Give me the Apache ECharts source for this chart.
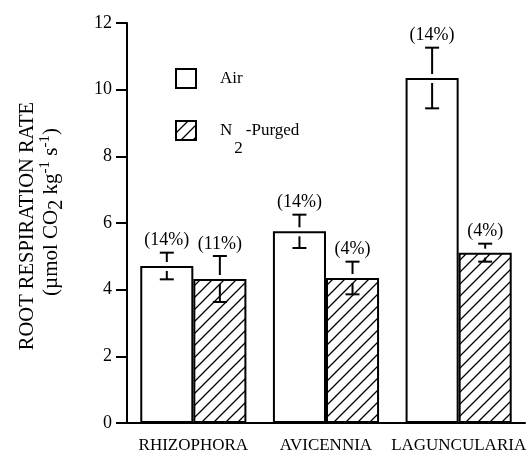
<!DOCTYPE html>
<html>
<head>
<meta charset="utf-8">
<script src="https://cdn.jsdelivr.net/npm/echarts@6/dist/echarts.min.js"></script>
<style>
html,body{margin:0;padding:0;background:#fff;}
#c{width:529px;height:455px;}
</style>
</head>
<body>
<div id="c"></div>
<script>
const categories = ['RHIZOPHORA', 'AVICENNIA', 'LAGUNCULARIA'];
const airValues = [4.71, 5.75, 10.35];
const airErrors = [0.40, 0.50, 0.91];
const airLabels = ['(14%)', '(14%)', '(14%)'];
const n2Values = [4.32, 4.35, 5.11];
const n2Errors = [0.69, 0.49, 0.27];
const n2Labels = ['(11%)', '(4%)', '(4%)'];
const yTicks = [0, 2, 4, 6, 8, 10, 12];

const SERIF = '"Liberation Serif","Times New Roman",serif';

function hatch() {
  const s = 12;
  const c = document.createElement('canvas');
  c.width = s; c.height = s;
  const g = c.getContext('2d');
  g.fillStyle = '#fff';
  g.fillRect(0, 0, s, s);
  g.strokeStyle = '#000';
  g.lineWidth = 1.3;
  g.beginPath();
  g.moveTo(-1, s + 1); g.lineTo(s + 1, -1);
  g.moveTo(-1, 1); g.lineTo(1, -1);
  g.moveTo(s - 1, s + 1); g.lineTo(s + 1, s - 1);
  g.stroke();
  return c;
}
const hatchFill = { image: hatch(), repeat: 'repeat' };

function errData(vals, errs) {
  return vals.map((v, i) => [i, v, errs[i]]);
}

function makeErr(offsetFrac, labels) {
  return function (params, api) {
    const i = api.value(0), v = api.value(1), e = api.value(2);
    const band = api.size([1, 0])[0];
    const x = api.coord([i, 0])[0] + offsetFrac * band;
    const yT = api.coord([i, v + e])[1];
    const yB = api.coord([i, v])[1];
    const yL = api.coord([i, v - e])[1];
    const cw = 7;
    const st = { stroke: '#000', lineWidth: 2 };
    const kids = [
      { type: 'line', shape: { x1: x, y1: yT, x2: x, y2: yB - 4 }, style: st },
      { type: 'line', shape: { x1: x, y1: yB + 5, x2: x, y2: yL }, style: st },
      { type: 'line', shape: { x1: x - cw, y1: yT, x2: x + cw, y2: yT }, style: st },
      { type: 'line', shape: { x1: x - cw, y1: yL, x2: x + cw, y2: yL }, style: st },
      { type: 'text', style: { x: x, y: yT - 3, text: labels[params.dataIndex], textAlign: 'center', textVerticalAlign: 'bottom', fill: '#000', font: '18px ' + SERIF } }
    ];
    return { type: 'group', children: kids };
  };
}

const chart = echarts.init(document.getElementById('c'), null, { renderer: 'canvas' });
chart.setOption({
  animation: false,
  backgroundColor: '#fff',
  grid: { left: 127, right: 3, top: 23, bottom: 32, containLabel: false },
  legend: {
    orient: 'vertical',
    left: 175, top: 68, padding: 0,
    itemWidth: 20, itemHeight: 19, itemGap: 31,
    icon: 'rect',
    data: ['Air', 'N2-Purged'],
    itemStyle: { borderColor: '#000', borderWidth: 2 },
    formatter: function (n) { return n === 'Air' ? '{a|Air}' : '{a|N}{s|2}{g|-Purged}'; },
    textStyle: {
      color: '#000', fontFamily: SERIF, fontSize: 17, padding: [0, 0, 0, 19],
      rich: {
        a: { fontFamily: SERIF, fontSize: 17, color: '#000', lineHeight: 22, verticalAlign: 'middle' },
        g: { fontFamily: SERIF, fontSize: 17, color: '#000', lineHeight: 22, verticalAlign: 'middle', padding: [0, 0, 0, 3] },
        s: { fontFamily: SERIF, fontSize: 17, color: '#000', lineHeight: 22, verticalAlign: 'bottom', padding: [0, 0, -16, 2] }
      }
    }
  },
  xAxis: {
    type: 'category',
    data: categories,
    axisLine: { lineStyle: { color: '#000', width: 2 } },
    axisTick: { alignWithLabel: true, length: 9, lineStyle: { color: '#000', width: 1.5 } },
    axisLabel: { color: '#000', fontFamily: SERIF, fontSize: 17, margin: 14, interval: 0 }
  },
  yAxis: {
    type: 'value',
    min: yTicks[0], max: yTicks[yTicks.length - 1], interval: 2,
    splitLine: { show: false },
    axisLine: { show: true, lineStyle: { color: '#000', width: 2 } },
    axisTick: { show: true, length: 11, lineStyle: { color: '#000', width: 2 } },
    axisLabel: { color: '#000', fontFamily: SERIF, fontSize: 18, margin: 15 }
  },
  graphic: [
    {
      type: 'text', x: 28, y: 226, rotation: Math.PI / 2,
      style: { text: 'ROOT RESPIRATION RATE', font: '20.5px ' + SERIF, fill: '#000', textAlign: 'center', textVerticalAlign: 'middle' }
    },
    {
      type: 'text', x: 51, y: 212, rotation: Math.PI / 2,
      style: {
        text: '{a|(µmol CO}{s|2}{a| kg}{p|-1}{a| s}{p|-1}{a|)}',
        textAlign: 'center', textVerticalAlign: 'middle',
        rich: {
          a: { fontFamily: SERIF, fontSize: 21, color: '#000', lineHeight: 26, verticalAlign: 'middle' },
          s: { fontFamily: SERIF, fontSize: 20, color: '#000', lineHeight: 26, padding: [12, 0, 0, 0] },
          p: { fontFamily: SERIF, fontSize: 15, color: '#000', lineHeight: 26, padding: [0, 0, 12, 0] }
        }
      }
    }
  ],
  series: [
    {
      name: 'Air', type: 'bar', data: airValues, barWidth: '40%', barGap: '0%',
      itemStyle: { color: '#fff', borderColor: '#000', borderWidth: 2 }, z: 2
    },
    {
      name: 'N2-Purged', type: 'bar', data: n2Values, barWidth: '40%', barGap: '0%',
      itemStyle: { color: hatchFill, borderColor: '#000', borderWidth: 2 }, z: 2
    },
    {
      type: 'custom', data: errData(airValues, airErrors), renderItem: makeErr(-0.2, airLabels), z: 5,
      encode: { x: 0, y: 1 }, silent: true
    },
    {
      type: 'custom', data: errData(n2Values, n2Errors), renderItem: makeErr(0.2, n2Labels), z: 5,
      encode: { x: 0, y: 1 }, silent: true
    }
  ]
});
</script>
</body>
</html>
